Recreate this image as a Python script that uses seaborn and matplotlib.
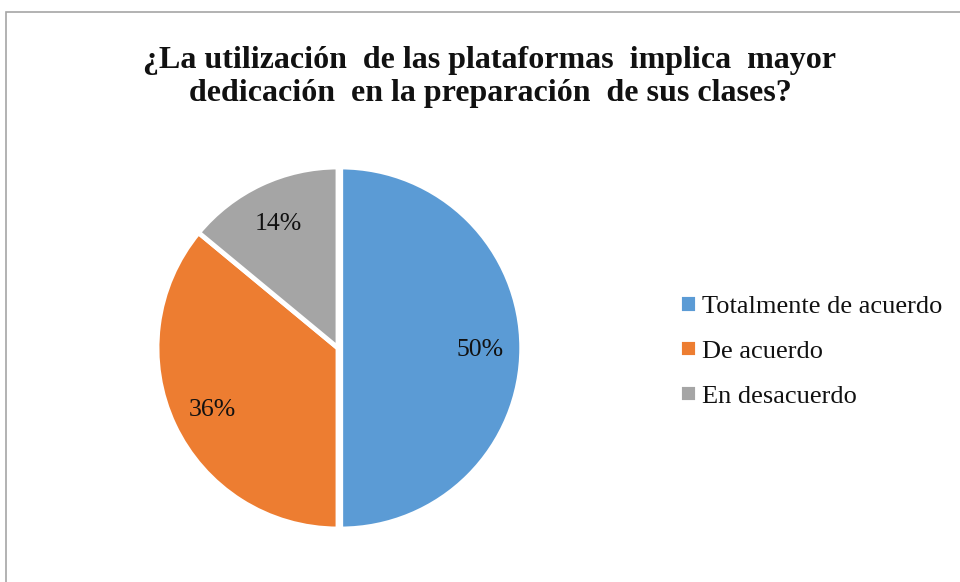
import matplotlib
matplotlib.use("Agg")
import matplotlib.pyplot as plt
from matplotlib.patches import Rectangle
import seaborn as sns

# datos
categorias = ["Totalmente de acuerdo", "De acuerdo", "En desacuerdo"]
porcentajes = [50, 36, 14]
colores = ["#5B9BD5", "#ED7D31", "#A5A5A5"]
titulo = "¿La utilización  de las plataformas  implica  mayor\ndedicación  en la preparación  de sus clases?"

sns.set_theme(style="white")
plt.rcParams["font.family"] = ["Liberation Serif", "DejaVu Serif"]

W, H = 960, 582
fig = plt.figure(figsize=(W / 100, H / 100), dpi=100)

# marco del gráfico
fig.patches.append(Rectangle((6 / W, -0.1), 1.2, 1.1 - 12 / H, transform=fig.transFigure,
                             fill=False, edgecolor="#A6A6A6", linewidth=1.2, figure=fig))

# ejes posicionados en pixeles: centro (338, 348), radio 181
cx, cy, r = 338, 348, 181
ax = fig.add_axes([(cx - r) / W, (H - cy - r) / H, 2 * r / W, 2 * r / H])
wedges, textos = ax.pie(
    porcentajes,
    colors=colores,
    startangle=90,
    counterclock=False,
    explode=[0.015, 0, 0],
    labels=[f"{p}%" for p in porcentajes],
    labeldistance=0.77,
    wedgeprops=dict(edgecolor="white", linewidth=3.5),
    textprops=dict(fontsize=18.5, color="#111111", ha="center", va="center_baseline"),
)
ax.set_xlim(-1, 1)
ax.set_ylim(-1, 1)
ax.set_aspect("equal")
ax.axis("off")

fig.text(490 / W, 1 - 77 / H, titulo, ha="center", va="center", fontsize=23,
         fontweight="bold", color="#111111", linespacing=1.2)

fig.legend(wedges, categorias, loc="center left", bbox_to_anchor=(679 / W, 1 - 351 / H),
           frameon=False, fontsize=19, handlelength=0.68, handleheight=0.68,
           handletextpad=0.2, labelspacing=0.82, borderpad=0, borderaxespad=0,
           labelcolor="#111111")

fig.savefig("out.png", dpi=100)
